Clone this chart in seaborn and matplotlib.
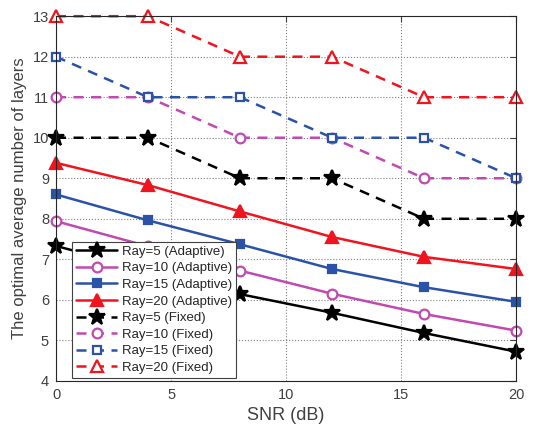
import numpy as np
import matplotlib
matplotlib.use("Agg")
import matplotlib.pyplot as plt
import seaborn as sns
import pandas as pd

# SNR values on the x axis
snr = [0, 4, 8, 12, 16, 20]

# adaptive scheme
ada_5 = [7.33, 6.72, 6.14, 5.68, 5.18, 4.72]
ada_10 = [7.94, 7.32, 6.72, 6.15, 5.65, 5.24]
ada_15 = [8.60, 7.96, 7.37, 6.76, 6.31, 5.95]
ada_20 = [9.38, 8.83, 8.18, 7.55, 7.06, 6.76]

# fixed scheme
fix_5 = [10, 10, 9, 9, 8, 8]
fix_10 = [11, 11, 10, 10, 9, 9]
fix_15 = [12, 11, 11, 10, 10, 9]
fix_20 = [13, 13, 12, 12, 11, 11]

rays = [5, 10, 15, 20]
colors = ["#000000", "#c04ab0", "#2a52a8", "#f0141e"]
markers = ["*", "o", "s", "^"]
msizes = [12, 7, 6, 8]

sns.set_style("white")
plt.rcParams['font.family'] = ['Liberation Sans', 'DejaVu Sans']

fig = plt.figure(figsize=(5.36, 4.26), dpi=100)
ax = fig.add_axes([0.1045, 0.106, 0.8585, 0.856])

ada = [ada_5, ada_10, ada_15, ada_20]
fix = [fix_5, fix_10, fix_15, fix_20]

# adaptive - solid lines
for r, vals, c, m, ms in zip(rays, ada, colors, markers, msizes):
    df = pd.DataFrame({"SNR": snr, "layers": vals})
    face = "white" if m == "o" else c
    sns.lineplot(data=df, x="SNR", y="layers", ax=ax, color=c, lw=1.8,
                 marker=m, markersize=ms, markerfacecolor=face,
                 markeredgecolor=c, markeredgewidth=1.6,
                 label="Ray=%d (Adaptive)" % r, clip_on=False)

# fixed - dashed lines
for r, vals, c, m, ms in zip(rays, fix, colors, markers, msizes):
    df = pd.DataFrame({"SNR": snr, "layers": vals})
    face = c if m == "*" else "white"
    sns.lineplot(data=df, x="SNR", y="layers", ax=ax, color=c, lw=1.8,
                 marker=m, markersize=ms, markerfacecolor=face,
                 markeredgecolor=c, markeredgewidth=1.6,
                 label="Ray=%d (Fixed)" % r, clip_on=False)
    ax.lines[-1].set_dashes((4, 3))

ax.set_xlim(0, 20)
ax.set_ylim(4, 13)
ax.set_xticks([0, 5, 10, 15, 20])
ax.set_yticks(range(4, 14))
ax.grid(True, linestyle=":", color="#808080", lw=0.8)
ax.set_axisbelow(True)
for s in ax.spines.values():
    s.set_color("#262626")
    s.set_linewidth(0.8)
ax.tick_params(direction="in", top=True, right=True, length=4, pad=5,
               colors="#404040", labelsize=10.5)
ax.set_xlabel("SNR (dB)", fontsize=13, color="#404040")
ax.set_ylabel("The optimal average number of layers", fontsize=12, color="#404040")

leg = ax.legend(loc="lower left", bbox_to_anchor=(0.035, 0.008), fontsize=9.5,
                frameon=True, fancybox=False, edgecolor="#404040",
                handlelength=3.1, labelspacing=0.33, borderpad=0.3,
                handletextpad=0.35, borderaxespad=0)
leg.get_frame().set_linewidth(0.8)
leg.get_frame().set_alpha(1)
for t in leg.get_texts():
    t.set_color("#262626")
for h in leg.get_lines()[4:]:
    h.set_dashes((4, 3))

plt.savefig("out.png", dpi=100)
plt.close()
